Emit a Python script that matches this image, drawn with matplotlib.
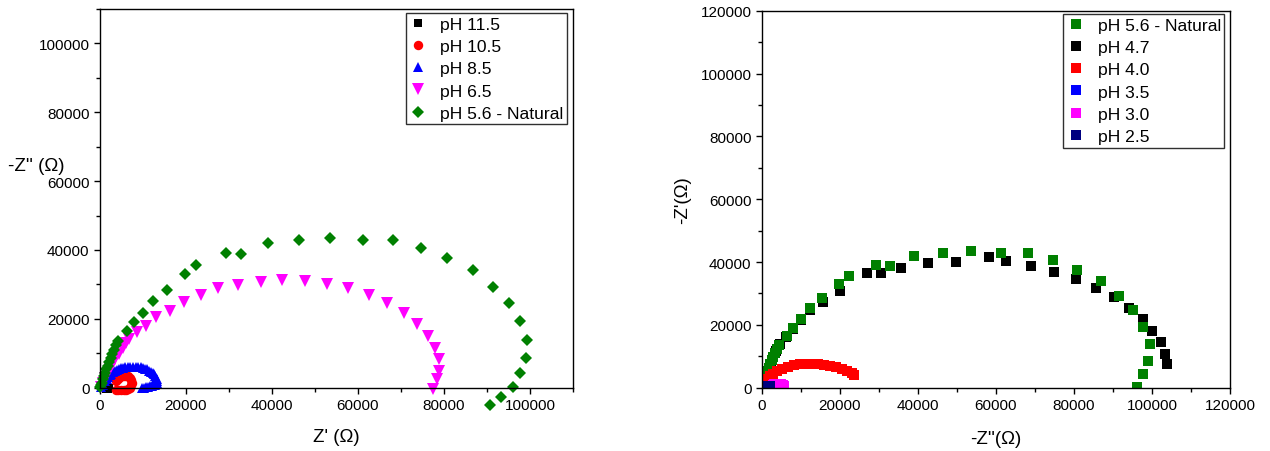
import matplotlib
matplotlib.use("Agg")
import matplotlib.pyplot as plt
from matplotlib.ticker import MultipleLocator

plt.rcParams['font.family'] = ['Liberation Sans', 'DejaVu Sans']

# ---------------- Nyquist data, alkaline side (Z' , -Z'') ----------------
ph115_x = [1200, 1500, 1800, 2000]
ph115_y = [-200, -400, -300, -100]

ph105_x = [3730, 4200, 4660, 5130, 5590, 6060, 6530, 6990, 7230, 7340,
           7230, 6990, 6640, 6060, 5480, 4900, 4310, 3730]
ph105_y = [1950, 2530, 2970, 3260, 3400, 3400, 3260, 2820, 2240, 1510,
           780, 60, -400, -650, -700, -700, -700, -650]

ph85_x = [300, 700, 1200, 1600, 1900, 2300, 2600, 3000, 3500, 4000,
          4400, 4900, 5400, 5900, 6500, 7100, 7700, 8300, 8900, 9500,
          10000, 10500, 11000, 11500, 11900, 12300, 12600, 12900, 13100, 13300,
          13300, 13200, 13000, 12700, 12200, 11700, 11200, 10700, 10200, 9700]
ph85_y = [300, 800, 1900, 2600, 3100, 3600, 4000, 4500, 4900, 5200,
          5400, 5600, 5800, 5900, 6000, 6000, 6000, 6000, 6000, 5900,
          5700, 5500, 5300, 5000, 4700, 4300, 3900, 3400, 2900, 2400,
          1900, 1500, 1100, 800, 600, 400, 300, 200, 50, -100]

ph65_x = [300, 700, 1200, 1700, 2300, 2900, 3600, 4400, 5300, 6100,
          6800, 8700, 10700, 13100, 16200, 19500, 23400, 27400, 32200, 37400,
          42400, 47600, 52700, 57800, 62600, 66700, 70700, 73700, 76200, 77900,
          78800, 78900, 78500, 77500]
ph65_y = [300, 1400, 2700, 4000, 5400, 6800, 8300, 9900, 11600, 13000,
          14200, 16100, 18000, 20500, 22200, 25000, 27000, 28900, 29900, 30600,
          31200, 30900, 30100, 28900, 27000, 24500, 21700, 18600, 15100, 11600,
          8300, 4900, 2500, -400]

# pH 5.6 - Natural (shared by both panels)
ph56_x = [100, 250, 450, 700, 950, 1200, 1500, 1800, 2100, 2500,
          2900, 3300, 3800, 4300, 6400, 8000, 10100, 12300, 15500, 19800,
          22300, 29300, 32900, 39100, 46300, 53500, 61200, 68200, 74600, 80800,
          86800, 91500, 95200, 97600, 99400, 99100, 97800, 96100, 93300, 90700]
ph56_y = [200, 800, 1500, 2400, 3300, 4300, 5300, 6400, 7500, 8700,
          9900, 11100, 12300, 13500, 16600, 19100, 21800, 25300, 28400, 32900,
          35600, 39100, 38900, 41900, 43000, 43600, 42800, 42800, 40600, 37600,
          34100, 29300, 24600, 19400, 13900, 8500, 4400, 100, -2700, -4900]

# ---------------- Nyquist data, acidic side ----------------
ph47_x = [300, 800, 1300, 1800, 2300, 2900, 3600, 4600, 6200, 8000,
          10100, 12300, 15700, 19900, 26800, 30400, 35600, 42600, 49700, 58300,
          62500, 68900, 75000, 80500, 85600, 90200, 94200, 97600, 100100, 102300,
          103300, 103900]
ph47_y = [800, 2500, 4200, 5900, 7600, 9700, 11800, 13900, 16300, 18700,
          21400, 24700, 27400, 30900, 36500, 36400, 38100, 39800, 40000, 41600,
          40200, 38800, 36900, 34600, 31800, 28800, 25500, 21900, 18100, 14500,
          10800, 7600]

ph40_x = [1030, 1540, 2050, 2820, 3850, 5130, 6670, 8210, 9740, 11280,
          12820, 14360, 15900, 17440, 18970, 20510, 21790, 23080, 23590]
ph40_y = [1500, 2770, 3720, 4520, 5320, 6110, 6750, 7230, 7540, 7700,
          7700, 7540, 7390, 7070, 6590, 6110, 5480, 4680, 4200]

ph35_x = [900, 1200, 1500]
ph35_y = [300, 400, 400]

ph30_x = [2400, 2700, 3000, 3400, 3800, 4200, 4600, 5000, 5400, 5700]
ph30_y = [700, 900, 1100, 1200, 1300, 1300, 1200, 1100, 900, 700]

ph25_x = [1200, 1500, 1800, 2100]
ph25_y = [300, 500, 600, 500]

labels_left = ['pH 11.5', 'pH 10.5', 'pH 8.5', 'pH 6.5', 'pH 5.6 - Natural']
labels_right = ['pH 5.6 - Natural', 'pH 4.7', 'pH 4.0', 'pH 3.5', 'pH 3.0', 'pH 2.5']

GREEN, BLACK, RED, BLUE, MAGENTA, NAVY = '#008000', '#000000', '#ff0000', '#0000ff', '#ff00ff', '#000080'

fig = plt.figure(figsize=(12.7, 4.52), dpi=100)
axL = fig.add_axes([0.0787, 0.1400, 0.3724, 0.8379])
axR = fig.add_axes([0.6000, 0.1400, 0.3685, 0.8341])


def style_axes(ax, xmax, ymax):
    ax.set_xlim(0, xmax)
    ax.set_ylim(0, ymax)
    ax.xaxis.set_major_locator(MultipleLocator(20000))
    ax.yaxis.set_major_locator(MultipleLocator(20000))
    ax.xaxis.set_minor_locator(MultipleLocator(10000))
    ax.yaxis.set_minor_locator(MultipleLocator(10000))
    ax.tick_params(which='both', direction='out', top=False, right=False,
                   labelsize=11, width=1.0, color='black')
    ax.tick_params(which='major', length=4.6, pad=3)
    ax.tick_params(which='minor', length=2.6)
    for s in ax.spines.values():
        s.set_linewidth(1.0)
        s.set_color('black')


LEG_KW = dict(loc='upper right', borderaxespad=0, fontsize=12.6, frameon=True,
              fancybox=False, framealpha=1, edgecolor='#303030', borderpad=0.2,
              handlelength=1.0, handletextpad=0.75, labelspacing=0.4)

# ---------------- left panel ----------------
style_axes(axL, 110000, 110000)
kw = dict(linestyle='none', clip_on=False, mew=0)
h1, = axL.plot(ph115_x, ph115_y, marker='s', ms=6.3, color=BLACK, label=labels_left[0], **kw)
h2, = axL.plot(ph105_x, ph105_y, marker='o', ms=6.8, color=RED, label=labels_left[1], **kw)
h3, = axL.plot(ph85_x, ph85_y, marker='^', ms=7.2, color=BLUE, label=labels_left[2], **kw)
h4, = axL.plot(ph65_x, ph65_y, marker='v', ms=8.2, color=MAGENTA, label=labels_left[3], **kw)
h5, = axL.plot(ph56_x, ph56_y, marker='D', ms=6.2, color=GREEN, label=labels_left[4], **kw)
legL = axL.legend(bbox_to_anchor=(0.9867, 0.9894), **LEG_KW)
legL.get_frame().set_linewidth(1.0)

axL.set_xlabel("Z' (\u03a9)", fontsize=13.5, va='center')
axL.xaxis.set_label_coords(0.50, -0.1275)
axL.set_ylabel("-Z'' (\u03a9)", fontsize=13.5, rotation=0, ha='left', va='center')
axL.yaxis.set_label_coords(-0.1945, 0.588)

# ---------------- right panel ----------------
style_axes(axR, 120000, 120000)
sq = dict(linestyle='none', marker='s', ms=6.5, mew=0)
r2, = axR.plot(ph47_x, ph47_y, color=BLACK, label=labels_right[1], **sq)
r1, = axR.plot(ph56_x, ph56_y, color=GREEN, label=labels_right[0], **sq)
r3, = axR.plot(ph40_x, ph40_y, color=RED, label=labels_right[2], **sq)
r4, = axR.plot(ph35_x, ph35_y, color=BLUE, label=labels_right[3], **sq)
r5, = axR.plot(ph30_x, ph30_y, color=MAGENTA, label=labels_right[4], **sq)
r6, = axR.plot(ph25_x, ph25_y, color=NAVY, label=labels_right[5], **sq)
legR = axR.legend(handles=[r1, r2, r3, r4, r5, r6], bbox_to_anchor=(0.9878, 0.9912), **LEG_KW)
legR.get_frame().set_linewidth(1.0)

axR.set_xlabel("-Z''(\u03a9)", fontsize=13.5, va='center')
axR.xaxis.set_label_coords(0.50, -0.136)
axR.set_ylabel("-Z'(\u03a9)", fontsize=13.5, va='center')
axR.yaxis.set_label_coords(-0.1688, 0.50)

fig.savefig('out.png', dpi=100)
